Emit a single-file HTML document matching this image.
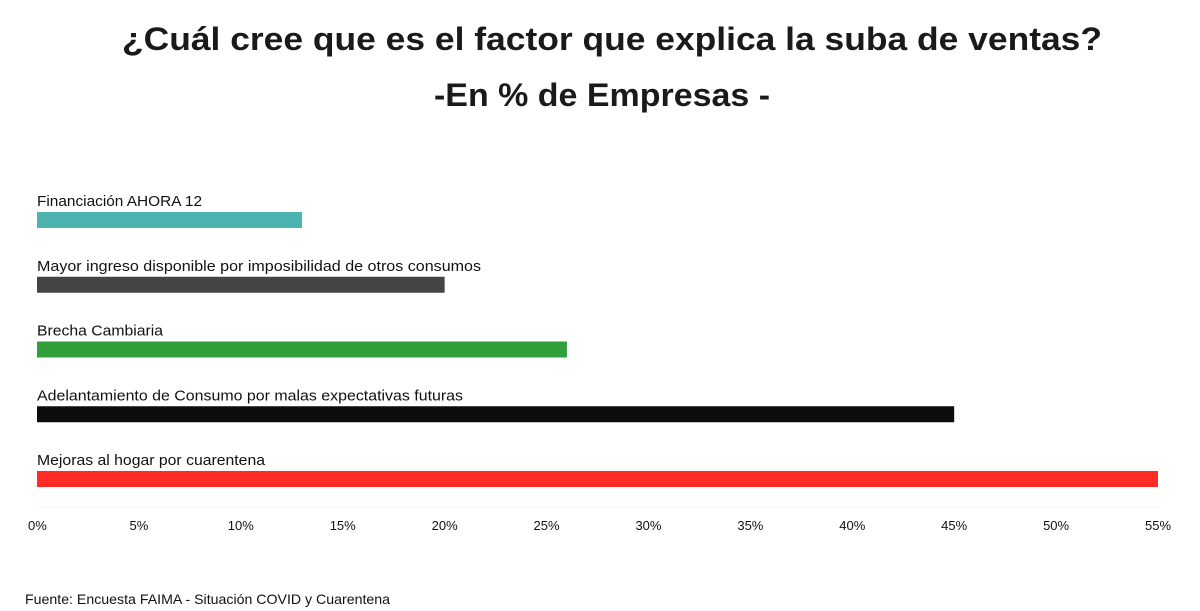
<!DOCTYPE html>
<html><head><meta charset="utf-8"><style>
html,body{margin:0;padding:0;background:#fff;}
svg{display:block;font-family:"Liberation Sans",sans-serif;}
</style></head><body>
<svg id="chart" width="1200" height="611" viewBox="0 0 1200 611" xmlns="http://www.w3.org/2000/svg">
<text x="612" y="50" text-anchor="middle" font-size="32" font-weight="bold" fill="#1a1a1a" textLength="980" lengthAdjust="spacingAndGlyphs">¿Cuál cree que es el factor que explica la suba de ventas?</text>
<text x="602" y="106" text-anchor="middle" font-size="32" font-weight="bold" fill="#1a1a1a" textLength="336" lengthAdjust="spacingAndGlyphs">-En % de Empresas -</text>
<g id="bars"></g>
<g id="axis"></g>
<text x="25" y="604" font-size="14" fill="#111" textLength="365" lengthAdjust="spacingAndGlyphs">Fuente: Encuesta FAIMA - Situación COVID y Cuarentena</text>
</svg>
<script>
const categories = ["Financiación AHORA 12","Mayor ingreso disponible por imposibilidad de otros consumos","Brecha Cambiaria","Adelantamiento de Consumo por malas expectativas futuras","Mejoras al hogar por cuarentena"];
const values = [13, 20, 26, 45, 55];
const colors = ["#4db3b0","#444444","#31a03c","#0d0d0d","#ff2b24"];
const labelWidths = [165, 444, 126, 426, 228];
const tickValues = [0,5,10,15,20,25,30,35,40,45,50,55];
const tickLabels = ["0%","5%","10%","15%","20%","25%","30%","35%","40%","45%","50%","55%"];

const NS = "http://www.w3.org/2000/svg";
const x0 = 37, x1 = 1158, xMax = 55;
function xScale(v){ return x0 + (v / xMax) * (x1 - x0); }
function yTop(i){ return 212 + i * 64.75; }
const barH = 16;

const gb = document.getElementById('bars');
categories.forEach((c, i) => {
  const t = document.createElementNS(NS, 'text');
  
  
  t.setAttribute('x', x0);
  t.setAttribute('y', yTop(i) - 6);
  t.setAttribute('font-size', '15');
  t.setAttribute('fill', '#111');
  t.setAttribute('textLength', labelWidths[i]);
  t.setAttribute('lengthAdjust', 'spacingAndGlyphs');
  t.textContent = c;
  gb.appendChild(t);
  const r = document.createElementNS(NS, 'rect');
  
  
  r.setAttribute('x', xScale(0));
  r.setAttribute('y', yTop(i));
  r.setAttribute('width', xScale(values[i]) - xScale(0));
  r.setAttribute('height', barH);
  r.setAttribute('fill', colors[i]);
  gb.appendChild(r);
});

const ga = document.getElementById('axis');
const base = document.createElementNS(NS, 'line');


base.setAttribute('x1', x0); base.setAttribute('x2', x1);
base.setAttribute('y1', 507); base.setAttribute('y2', 507);
base.setAttribute('stroke', '#f2f2f2');
ga.appendChild(base);
tickValues.forEach((v, i) => {
  const t = document.createElementNS(NS, 'text');
  
  
  const last = i === tickValues.length - 1;
  t.setAttribute('x', i === 0 ? xScale(v) - 9 : xScale(v));
  t.setAttribute('y', 530);
  t.setAttribute('text-anchor', i === 0 ? 'start' : 'middle');
  t.setAttribute('font-size', '13');
  t.setAttribute('fill', '#111');
  t.textContent = tickLabels[i];
  ga.appendChild(t);
});
</script>
</body></html>
